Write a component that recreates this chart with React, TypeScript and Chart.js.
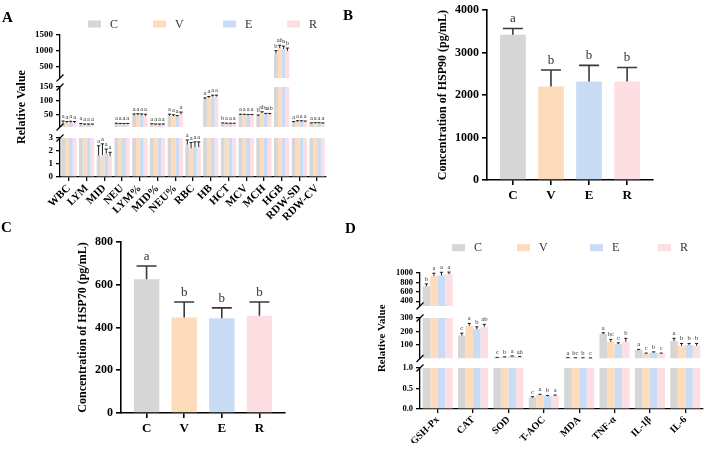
import { useEffect, useRef } from 'react';
import { Chart, registerables } from 'chart.js';

Chart.register(...registerables);
Chart.defaults.font.family = '"Liberation Serif", "Times New Roman", serif';
Chart.defaults.color = '#000';

// Treatment groups shared by every panel
const groups = ['C', 'V', 'E', 'R'];
const groupColors = ['#d6d6d6', '#fddcbc', '#c8ddf5', '#fddee2'];

// Panel A – blood indices (relative values), broken axis 0–3 / 3–150 / 150–1500
const bloodLabels = ['WBC', 'LYM', 'MID', 'NEU', 'LYM%', 'MID%', 'NEU%', 'RBC', 'HB', 'HCT', 'MCV', 'MCH', 'HGB', 'RDW-SD', 'RDW-CV'];
const bloodC = [19, 12, 1.65, 14, 45, 12, 44, 2.5, 105, 16, 47, 43, 920, 20, 16];
const bloodV = [18, 11, 1.7, 13, 46, 11, 43, 2.2, 110, 15, 47, 54, 1090, 23, 17];
const bloodE = [19, 11, 1.8, 13, 45, 11, 41, 2.3, 115, 15, 46, 49, 1060, 23, 17];
const bloodR = [18, 11, 1.6, 13, 44, 11, 50, 2.3, 115, 15, 46, 49, 1000, 22, 16];
const bloodErrC = [6, 4, 0.75, 3, 6, 3, 6, 0.35, 5, 2, 3, 4, 90, 3, 2];
const bloodErrV = [5, 3, 0.85, 3, 6, 3, 5, 0.45, 5, 2, 3, 5, 90, 3, 2];
const bloodErrE = [5, 3, 0.35, 3, 6, 3, 4, 0.4, 5, 2, 3, 4, 90, 3, 2];
const bloodErrR = [5, 3, 0.3, 3, 6, 3, 8, 0.4, 5, 2, 3, 4, 90, 3, 2];
const bloodSigC = ['a', 'a', 'a', 'a', 'a', 'a', 'a', 'a', 'a', 'b', 'a', 'b', 'b', 'a', 'a'];
const bloodSigV = ['a', 'a', 'a', 'a', 'a', 'a', 'a', 'a', 'a', 'a', 'a', 'ab', 'ab', 'a', 'a'];
const bloodSigE = ['a', 'a', 'a', 'a', 'a', 'a', 'a', 'a', 'a', 'a', 'a', 'a', 'a', 'a', 'a'];
const bloodSigR = ['a', 'a', 'a', 'a', 'a', 'a', 'a', 'a', 'a', 'a', 'a', 'ab', 'b', 'a', 'a'];
const bloodBreaks = [0, 3, 150, 1500];
const bloodTicks = [[0, 1, 2, 3], [50, 100, 150], [500, 1000, 1500]];

// Panel B – HSP90 (pg/mL)
const hsp90 = [3420, 2200, 2320, 2320];
const hsp90Err = [150, 390, 380, 330];
const hsp90Sig = ['a', 'b', 'b', 'b'];
const hsp90Ticks = [0, 1000, 2000, 3000, 4000];

// Panel C – HSP70 (pg/mL)
const hsp70 = [626, 447, 443, 455];
const hsp70Err = [62, 72, 49, 64];
const hsp70Sig = ['a', 'b', 'b', 'b'];
const hsp70Ticks = [0, 200, 400, 600, 800];

// Panel D – antioxidant and inflammatory markers, broken axis 0–1 / 1–300 / 300–1000
const redoxLabels = ['GSH-Px', 'CAT', 'SOD', 'T-AOC', 'MDA', 'TNF-α', 'IL-1β', 'IL-6'];
const redoxC = [720, 170, 8, 0.28, 7, 181, 63, 130];
const redoxV = [935, 243, 12, 0.34, 6, 124, 38, 95];
const redoxE = [950, 218, 18, 0.31, 6, 107, 46, 100];
const redoxR = [975, 235, 14, 0.32, 5, 124, 38, 95];
const redoxErrC = [50, 18, 1, 0.02, 0.5, 10, 5, 20];
const redoxErrV = [60, 17, 1, 0.02, 0.5, 18, 3, 17];
const redoxErrE = [65, 17, 2, 0.02, 0.5, 10, 4, 12];
const redoxErrR = [45, 18, 1, 0.02, 0.5, 26, 3, 17];
const redoxSigC = ['b', 'c', 'c', 'c', 'a', 'a', 'a', 'a'];
const redoxSigV = ['a', 'a', 'b', 'a', 'bc', 'bc', 'c', 'b'];
const redoxSigE = ['a', 'b', 'a', 'b', 'b', 'c', 'b', 'b'];
const redoxSigR = ['a', 'ab', 'ab', 'a', 'c', 'b', 'c', 'b'];
const redoxBreaks = [0, 1, 300, 1000];
const redoxTicks = [[0, 0.5, 1], [100, 200, 300], [400, 600, 800, 1000]];

const AXIS = '#000';

type BrokenSpec = {
  labels: string[];
  series: number[][];
  errors: number[][];
  sig: string[][];
  breaks: number[];
  ticks: number[][];
  tickFormat: (v: number) => string;
};

type BrokenStyle = {
  padding: { left: number; right: number; top: number; bottom: number };
  yWidth: number;
  xHeight: number;
  heights: number[]; // bottom segment, gap, middle segment, gap, top segment
  tickSize: number;
  xLabelSize: number;
  titleSize: number;
  catPct: number;
  legendX: number[];
  legendY: number;
  sigSize: number;
};

function drawLegend(ctx: CanvasRenderingContext2D, xs: number[], y: number) {
  ctx.font = '12px "Liberation Serif", serif';
  ctx.textAlign = 'left';
  ctx.textBaseline = 'middle';
  groups.forEach((g, i) => {
    ctx.fillStyle = groupColors[i];
    ctx.fillRect(xs[i], y - 3.5, 13, 7);
    ctx.fillStyle = '#333';
    ctx.fillText(g, xs[i] + 22, y + 0.5);
  });
}

function brokenConfig(spec: BrokenSpec, st: BrokenStyle) {
  const nSeg = spec.breaks.length - 1;
  const scales: any = {};
  for (let s = nSeg - 1; s >= 0; s--) {
    const lo = spec.breaks[s];
    const hi = spec.breaks[s + 1];
    const vals = spec.ticks[s];
    scales['y' + s] = {
      type: 'linear',
      position: 'left',
      stack: 'broken',
      stackWeight: st.heights[s * 2],
      weight: s * 2 + 2,
      stacked: false,
      min: lo,
      max: hi,
      afterBuildTicks: (scale: any) => {
        scale.ticks = vals.map((v) => ({ value: v }));
      },
      afterFit: (scale: any) => {
        scale.width = st.yWidth;
      },
      ticks: {
        autoSkip: false,
        callback: (v: any) => spec.tickFormat(Number(v)),
        font: { weight: 'bold', size: st.tickSize },
        color: AXIS,
        padding: 3,
      },
      grid: { drawOnChartArea: false, drawTicks: true, tickLength: 4, color: AXIS, lineWidth: 1.3 },
      border: { display: true, color: AXIS, width: 1.3 },
      title: {
        display: s === 1,
        text: 'Relative Value',
        font: { weight: 'bold', size: st.titleSize },
        color: AXIS,
        padding: 0,
      },
    };
    if (s > 0) {
      scales['gap' + s] = {
        type: 'linear',
        position: 'left',
        stack: 'broken',
        stackWeight: st.heights[s * 2 - 1],
        weight: s * 2 + 1,
        display: false,
        min: 0,
        max: 1,
      };
    }
  }
  scales.x = {
    type: 'category',
    stacked: true,
    offset: true,
    afterFit: (scale: any) => {
      scale.height = st.xHeight;
    },
    ticks: {
      autoSkip: false,
      maxRotation: 45,
      minRotation: 45,
      font: { weight: 'bold', size: st.xLabelSize },
      color: AXIS,
      padding: 1,
    },
    grid: { offset: false, drawOnChartArea: false, drawTicks: true, tickLength: 4, color: AXIS, lineWidth: 1.3 },
    border: { display: true, color: AXIS, width: 1.3 },
  };

  const datasets: any[] = [];
  for (let s = 0; s < nSeg; s++) {
    const lo = spec.breaks[s];
    const hi = spec.breaks[s + 1];
    groups.forEach((g, gi) => {
      datasets.push({
        label: g,
        stack: g,
        yAxisID: 'y' + s,
        backgroundColor: groupColors[gi],
        borderWidth: 0,
        categoryPercentage: st.catPct,
        barPercentage: 1,
        data: spec.series[gi].map((v) => (v > lo ? [lo, Math.min(v, hi)] : null)),
      });
    });
  }

  const extras = {
    id: 'brokenExtras',
    afterDatasetsDraw(chart: any) {
      const ctx = chart.ctx as CanvasRenderingContext2D;
      const pixelOf = (v: number) => {
        let s = 0;
        while (s < nSeg - 1 && v > spec.breaks[s + 1]) s++;
        return chart.scales['y' + s].getPixelForValue(v);
      };
      ctx.save();
      groups.forEach((_g, gi) => {
        const meta = chart.getDatasetMeta(gi);
        spec.series[gi].forEach((v, i) => {
          const bar = meta.data[i];
          if (!bar) return;
          const x = bar.x;
          const y0 = pixelOf(v);
          const y1 = pixelOf(v + spec.errors[gi][i]);
          ctx.strokeStyle = '#1e1e1e';
          ctx.lineWidth = 1;
          ctx.beginPath();
          ctx.moveTo(x, y0);
          ctx.lineTo(x, y1);
          ctx.moveTo(x - 1.6, y1);
          ctx.lineTo(x + 1.6, y1);
          ctx.stroke();
          ctx.fillStyle = '#333';
          ctx.font = `${st.sigSize}px "Liberation Serif", serif`;
          ctx.textAlign = 'center';
          ctx.textBaseline = 'bottom';
          ctx.fillText(spec.sig[gi][i], x, y1 - 1.5);
        });
      });
      // axis break marks
      const left = chart.chartArea.left;
      ctx.strokeStyle = AXIS;
      ctx.lineWidth = 1.3;
      for (let s = 0; s < nSeg; s++) {
        const sc = chart.scales['y' + s];
        const ys: number[] = [];
        if (s < nSeg - 1) ys.push(sc.top);
        if (s > 0) ys.push(sc.bottom);
        ys.forEach((y) => {
          ctx.beginPath();
          ctx.moveTo(left - 3.5, y + 3.5);
          ctx.lineTo(left + 3.5, y - 3.5);
          ctx.stroke();
        });
      }
      drawLegend(ctx, st.legendX, st.legendY);
      ctx.restore();
    },
  };

  return {
    type: 'bar',
    data: { labels: spec.labels, datasets },
    options: {
      responsive: false,
      animation: false,
      devicePixelRatio: 1,
      events: [],
      layout: { padding: st.padding },
      plugins: { legend: { display: false }, tooltip: { enabled: false } },
      scales,
    },
    plugins: [extras],
  };
}

type SimpleStyle = {
  padding: { left: number; right: number; top: number; bottom: number };
  yWidth: number;
  xHeight: number;
  xRange: [number, number];
};

function simpleConfig(values: number[], errs: number[], sig: string[], ticks: number[], title: string, st: SimpleStyle) {
  const extras = {
    id: 'simpleExtras',
    afterDatasetsDraw(chart: any) {
      const ctx = chart.ctx as CanvasRenderingContext2D;
      const meta = chart.getDatasetMeta(0);
      const y = chart.scales.y;
      ctx.save();
      values.forEach((v, i) => {
        const bar = meta.data[i];
        const x = bar.x;
        const y0 = y.getPixelForValue(v);
        const y1 = y.getPixelForValue(v + errs[i]);
        ctx.strokeStyle = '#3a3a3a';
        ctx.lineWidth = 1.6;
        ctx.beginPath();
        ctx.moveTo(x, y0);
        ctx.lineTo(x, y1);
        ctx.moveTo(x - 10, y1);
        ctx.lineTo(x + 10, y1);
        ctx.stroke();
        ctx.fillStyle = '#333';
        ctx.font = '13px "Liberation Serif", serif';
        ctx.textAlign = 'center';
        ctx.textBaseline = 'bottom';
        ctx.fillText(sig[i], x, y1 - 3);
      });
      ctx.restore();
    },
  };
  return {
    type: 'bar',
    data: {
      datasets: [
        {
          data: values.map((v, i) => ({ x: i, y: v })),
          backgroundColor: groupColors,
          borderWidth: 0,
          barPercentage: 0.676,
          categoryPercentage: 1,
        },
      ],
    },
    options: {
      responsive: false,
      animation: false,
      devicePixelRatio: 1,
      events: [],
      layout: { padding: st.padding },
      plugins: { legend: { display: false }, tooltip: { enabled: false } },
      scales: {
        x: {
          type: 'linear',
          offset: false,
          min: st.xRange[0],
          max: st.xRange[1],
          afterBuildTicks: (scale: any) => {
            scale.ticks = groups.map((_g, i) => ({ value: i }));
          },
          afterFit: (scale: any) => {
            scale.height = st.xHeight;
          },
          ticks: {
            autoSkip: false,
            callback: (v: any) => groups[Number(v)] ?? '',
            font: { weight: 'bold', size: 13 },
            color: AXIS,
            padding: 3,
          },
          grid: { offset: false, drawOnChartArea: false, drawTicks: true, tickLength: 5, color: AXIS, lineWidth: 1.6 },
          border: { display: true, color: AXIS, width: 1.6 },
        },
        y: {
          min: ticks[0],
          max: ticks[ticks.length - 1],
          afterBuildTicks: (scale: any) => {
            scale.ticks = ticks.map((v) => ({ value: v }));
          },
          afterFit: (scale: any) => {
            scale.width = st.yWidth;
          },
          ticks: {
            autoSkip: false,
            callback: (v: any) => String(v),
            font: { weight: 'bold', size: 12 },
            color: AXIS,
            padding: 3,
          },
          grid: { drawOnChartArea: false, drawTicks: true, tickLength: 5, color: AXIS, lineWidth: 1.6 },
          border: { display: true, color: AXIS, width: 1.6 },
          title: { display: true, text: title, font: { weight: 'bold', size: 12 }, color: AXIS, padding: 0 },
        },
      },
    },
    plugins: [extras],
  };
}

function ChartBox({ left, top, width, height, make }: { left: number; top: number; width: number; height: number; make: () => any }) {
  const ref = useRef<HTMLCanvasElement>(null);
  useEffect(() => {
    const chart = new Chart(ref.current as HTMLCanvasElement, make());
    return () => chart.destroy();
  }, []);
  return (
    <canvas
      ref={ref}
      width={width}
      height={height}
      style={{ position: 'absolute', left, top, width, height }}
    />
  );
}

const panelLetter = (text: string, left: number, top: number) => (
  <div
    style={{
      position: 'absolute',
      left,
      top,
      font: 'bold 15px "Liberation Serif", serif',
      lineHeight: '15px',
      color: '#000',
    }}
  >
    {text}
  </div>
);

export default function App() {
  const makeA = () =>
    brokenConfig(
      {
        labels: bloodLabels,
        series: [bloodC, bloodV, bloodE, bloodR],
        errors: [bloodErrC, bloodErrV, bloodErrE, bloodErrR],
        sig: [bloodSigC, bloodSigV, bloodSigE, bloodSigR],
        breaks: bloodBreaks,
        ticks: bloodTicks,
        tickFormat: (v) => String(v),
      },
      {
        padding: { left: 15, right: 29, top: 35, bottom: 3 },
        yWidth: 45,
        xHeight: 45,
        heights: [39, 11, 40, 9, 43],
        tickSize: 9,
        xLabelSize: 11,
        titleSize: 12,
        catPct: 0.86,
        legendX: [88, 153, 223, 287],
        legendY: 24,
        sigSize: 6.5,
      }
    );
  const makeD = () =>
    brokenConfig(
      {
        labels: redoxLabels,
        series: [redoxC, redoxV, redoxE, redoxR],
        errors: [redoxErrC, redoxErrV, redoxErrE, redoxErrR],
        sig: [redoxSigC, redoxSigV, redoxSigE, redoxSigR],
        breaks: redoxBreaks,
        ticks: redoxTicks,
        tickFormat: (v) => (v < 2 ? v.toFixed(1) : String(v)),
      },
      {
        padding: { left: 21, right: 6, top: 48, bottom: 7 },
        yWidth: 44,
        xHeight: 34,
        heights: [41, 9.5, 40.5, 12, 33],
        tickSize: 8.5,
        xLabelSize: 10,
        titleSize: 11,
        catPct: 0.85,
        legendX: [97, 162, 235, 303],
        legendY: 22.7,
        sigSize: 6.5,
      }
    );
  const makeB = () =>
    simpleConfig(hsp90, hsp90Err, hsp90Sig, hsp90Ticks, 'Concentration of HSP90 (pg/mL)', {
      padding: { left: 81, right: 56, top: 7, bottom: 15 },
      yWidth: 51,
      xHeight: 30,
      xRange: [-0.68, 3.68],
    });
  const makeC = () =>
    simpleConfig(hsp70, hsp70Err, hsp70Sig, hsp70Ticks, 'Concentration of HSP70 (pg/mL)', {
      padding: { left: 76, right: 70, top: 17, bottom: 7 },
      yWidth: 45,
      xHeight: 30,
      xRange: [-0.68, 3.68],
    });

  return (
    <div
      style={{
        position: 'fixed',
        left: 0,
        top: 0,
        width: 709,
        height: 450,
        background: '#fff',
        overflow: 'hidden',
      }}
    >
      <ChartBox left={0} top={0} width={355} height={225} make={makeA} />
      <ChartBox left={355} top={0} width={354} height={225} make={makeB} />
      <ChartBox left={0} top={225} width={355} height={225} make={makeC} />
      <ChartBox left={355} top={225} width={354} height={225} make={makeD} />
      {panelLetter('A', 2, 10)}
      {panelLetter('B', 343, 8)}
      {panelLetter('C', 1, 220)}
      {panelLetter('D', 345, 221)}
    </div>
  );
}
